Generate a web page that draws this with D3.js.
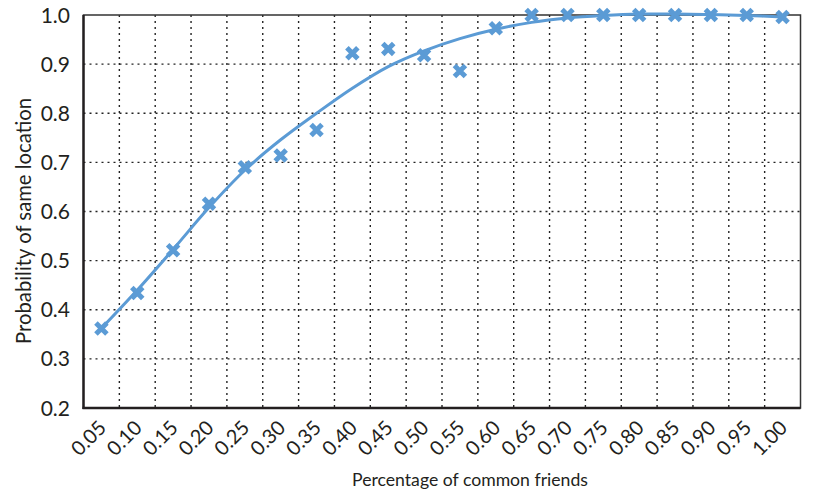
<!DOCTYPE html>
<html><head><meta charset="utf-8">
<script src="https://cdn.jsdelivr.net/npm/d3@7"></script>
<style>body{margin:0;background:#fff}svg{display:block}text{font-family:Lato,"Open Sans",sans-serif;fill:#231f20}</style>
</head><body><svg id="c" width="818" height="494"></svg>
<script>
const categories = ["0.05","0.10","0.15","0.20","0.25","0.30","0.35","0.40","0.45","0.50","0.55","0.60","0.65","0.70","0.75","0.80","0.85","0.90","0.95","1.00"];
const observed = [0.362,0.434,0.521,0.616,0.690,0.714,0.766,0.922,0.931,0.918,0.886,0.973,1.000,1.000,1.000,1.000,1.000,1.000,1.000,0.996];
const trend = [0.362,0.440,0.523,0.608,0.684,0.746,0.800,0.851,0.895,0.927,0.952,0.971,0.985,0.994,0.999,1.002,1.002,1.001,0.999,0.996];
const yTicks = [0.2,0.3,0.4,0.5,0.6,0.7,0.8,0.9,1.0];

const svg = d3.select("#c");
const m = {l:83.5, t:15, r:800.5, b:408};
const x = d3.scaleBand().domain(categories).range([m.l, m.r]);
const y = d3.scaleLinear().domain([0.2,1.0]).range([m.b, m.t]);
const cx = d => x(d) + x.bandwidth()/2;

// grid
svg.append("g").selectAll("line").data(yTicks.slice(1,-1)).join("line")
  .attr("x1", m.l).attr("x2", m.r).attr("y1", d=>y(d)).attr("y2", d=>y(d))
  .attr("stroke","#222").attr("stroke-width",1.4).attr("stroke-dasharray","2,4");
svg.append("g").selectAll("line").data(categories.slice(1)).join("line")
  .attr("x1", d=>x(d)).attr("x2", d=>x(d)).attr("y1", m.t).attr("y2", m.b)
  .attr("stroke","#222").attr("stroke-width",1.4).attr("stroke-dasharray","2,4");

// frame
svg.append("rect").attr("x",m.l).attr("y",m.t).attr("width",m.r-m.l).attr("height",m.b-m.t)
  .attr("fill","none").attr("stroke","#333").attr("stroke-width",1.5);
svg.append("line").attr("x1",m.l).attr("x2",m.l).attr("y1",m.t).attr("y2",m.b+1).attr("stroke","#231f20").attr("stroke-width",2.4);
svg.append("line").attr("x1",m.l-1).attr("x2",m.r).attr("y1",m.b).attr("y2",m.b).attr("stroke","#231f20").attr("stroke-width",2.4);

// y axis labels
svg.append("g").selectAll("text").data(yTicks).join("text")
  .attr("x", 70).attr("y", d=>y(d)).attr("dy","0.36em").attr("text-anchor","end")
  .attr("font-size",21).text(d=>d.toFixed(1));

// x axis labels
svg.append("g").selectAll("text").data(categories).join("text")
  .attr("text-anchor","end").attr("font-size",20)
  .attr("transform", d=>`translate(${cx(d)+6},${m.b+21}) rotate(-45)`)
  .text(d=>d);

// titles
function fitText(sel, w){ let fs=18; sel.attr("font-size",fs); const l=sel.node().getComputedTextLength(); sel.attr("font-size", fs*w/l); }
const xt = svg.append("text").attr("x", 470).attr("y", 486).attr("text-anchor","middle")
  .text("Percentage of common friends");
fitText(xt, 236);
const yt = svg.append("text").attr("transform", `translate(31,221) rotate(-90)`).attr("text-anchor","middle")
  .text("Probability of same location");
fitText(yt, 246);

// trend line
const color = "#5b9bd5";
svg.append("path").datum(trend.map((v,i)=>[cx(categories[i]), y(v)]))
  .attr("d", d3.line().curve(d3.curveCatmullRom))
  .attr("fill","none").attr("stroke",color).attr("stroke-width",3);

// markers
svg.append("g").selectAll("path").data(observed).join("path")
  .attr("transform",(d,i)=>`translate(${cx(categories[i])},${y(d)})`)
  .attr("d", d3.symbol(d3.symbolX, 80)())
  .attr("fill","none").attr("stroke",color).attr("stroke-width",5);
</script></body></html>
